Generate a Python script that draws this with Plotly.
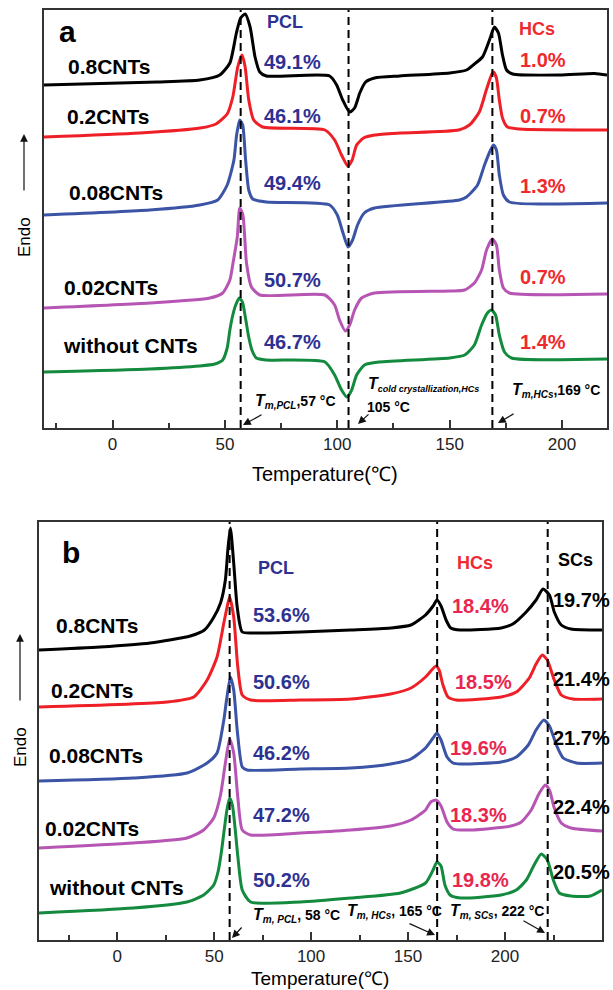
import plotly.graph_objects as go

W, H = 613, 990

# ---------------- Panel a ----------------
a_T_08 = [-30.5, 20, 38.8, 47.7, 52.2, 55.1, 57, 59, 61.2, 63.4, 65.5, 68.4, 96.6, 99.7, 102.4, 105.5, 107.7, 110,
          112.6, 116.6, 127.7, 150, 157.5, 161, 164.6, 167.7, 169.9, 171.7, 173.5, 175.3, 178, 199, 214.5, 220]
a_S_08 = [343, 346, 348, 353, 365, 395, 410, 414, 401, 371, 356, 352, 352, 343, 328, 316, 320, 335,
          346, 350, 352, 355, 358, 364, 371, 388, 401, 395, 373, 358, 354, 353, 354.5, 353]

a_T_02 = [-30.5, 12, 39, 46, 51, 53.5, 55.7, 57.6, 59, 60.6, 62.8, 66.8, 94.5, 98.8, 101.9, 104.7, 106.6, 108.6,
          111.7, 116.6, 128, 154, 158.8, 163.2, 166.3, 168.6, 169.5, 170.8, 172.1, 173.5, 175.7, 181, 220]
a_S_02 = [291, 295, 300, 304, 314, 331, 361, 373, 361, 328, 308, 301, 298, 288, 273, 262, 268, 283,
          290, 293, 295, 298, 303, 316, 338, 353, 356, 350, 328, 310, 301, 299, 298]

a_T_008 = [-30.5, 16.6, 38.8, 46.8, 51, 54, 55.2, 56.6, 57.9, 59.2, 60.6, 62.4, 68.5, 96.6, 100, 102.4, 104.8,
           106.8, 109, 112, 116.6, 154.4, 157.5, 162.4, 165.5, 168.2, 169.5, 170.8, 172.1, 173.9, 176.6, 220]
a_S_008 = [213, 218, 223, 228, 243, 268, 293, 308, 303, 268, 238, 229, 226, 223, 213, 196, 181,
           188, 203, 215, 220, 228, 231, 243, 263, 278, 283, 278, 253, 233, 226, 225]

a_T_002 = [-30.5, 16.6, 43.3, 49, 52.2, 53.6, 55.5, 56.6, 58, 59.6, 61.8, 65.5, 94.5, 98.8, 101, 103.6, 105.5,
           107.7, 110.8, 116.6, 150, 156.7, 161, 164.2, 166.4, 169, 170.8, 172.1, 173.9, 176.6, 220]
a_S_002 = [120, 125, 130, 135, 148, 165, 191, 220, 213, 165, 141, 133, 133, 123, 108, 97, 103,
           118, 130, 135, 137, 138, 145, 158, 178, 189, 183, 158, 140, 135, 134]

a_T_0 = [-30.5, 16.6, 38.8, 45.5, 49, 51, 52.2, 53.4, 54.8, 56.4, 57.8, 59, 60.5, 62, 64, 68.4, 94.5, 98.8,
         101.9, 104.3, 106.4, 108.6, 112.1, 118.8, 150, 156.7, 161, 164.2, 166.8, 168.6, 170.4, 172.1, 174.4,
         177.5, 220]
a_S_0 = [56, 59, 62, 64, 68, 80, 98, 112, 123, 130, 126, 112, 92, 78, 70, 68, 66, 53,
         38, 31, 38, 53, 63, 66, 70, 73, 83, 103, 115, 118, 113, 93, 76,
         70, 69]

a_peak_T = [57, 105, 169]

# ---------------- Panel b ----------------
b_T_08 = [-40.3, -8.8, 17, 37.7, 45, 49.6, 53.3, 55.8, 57.2, 58.4, 60.1, 61.9, 64.5, 70.4, 94.6, 120.5, 141, 151.5,
          159, 162.9, 164.9, 167, 169.6, 172, 177, 198, 204, 210.9, 216, 219.6, 222.9, 225.4, 229, 234, 250]
b_S_08 = [290, 293, 297, 304, 310, 322, 337, 360, 393, 412, 377, 333, 308, 307, 308, 310, 312, 315,
          325, 334, 340, 334, 320, 312, 310, 312, 316, 328, 340, 351, 345, 328, 315, 311, 310]

b_T_02 = [-40.3, 25.7, 39.5, 46.4, 51.5, 55, 56.7, 58, 60.1, 62.2, 64.5, 68.8, 94.6, 120.5, 141, 151.5, 159,
          164.4, 166, 168, 170.6, 174.8, 198, 205.8, 212.5, 216, 219.2, 221.8, 225.4, 229, 235, 250]
b_S_02 = [233, 238, 243, 260, 283, 317, 333, 343, 323, 273, 245, 240, 240, 241, 246, 252, 263,
          274, 270, 255, 243, 240, 243, 248, 262, 276, 285, 280, 260, 245, 241, 241]

b_T_008 = [-40.3, 8.3, 36, 46.4, 51.5, 55, 56.4, 58.4, 60.1, 61.9, 64.5, 67, 94.6, 120.5, 141, 151.5, 159,
           162.9, 164.9, 167, 170.1, 173.2, 177, 198, 205.8, 212, 216, 220, 222.9, 226.5, 230, 236.8, 250]
b_S_008 = [159, 162, 167, 177, 187, 220, 240, 263, 250, 210, 173, 170, 171, 172, 176, 181, 192,
           202, 207, 200, 183, 177, 176, 178, 183, 195, 210, 220, 214, 195, 182, 177, 177]

b_T_002 = [-40.3, 8.3, 36, 44.6, 49.8, 53.3, 55.8, 58, 60.1, 62.2, 64.5, 68.8, 94.6, 120.5, 141, 151.5, 159,
           161.7, 164.4, 167, 170.1, 173.2, 182, 203, 208.4, 213.5, 217.7, 220.8, 222.9, 225.4, 229, 234, 250]
b_S_002 = [92, 97, 102, 110, 122, 145, 177, 201, 187, 143, 110, 105, 107, 110, 114, 120, 130,
           138, 140, 134, 118, 111, 110, 114, 118, 130, 147, 155, 150, 132, 117, 112, 109]

b_T_0 = [-40.3, 8.3, 36, 44.6, 49.8, 52, 53.6, 55.2, 56.6, 58, 59.4, 60.8, 62.2, 64.5, 68.8, 94.6, 120.5, 146, 159,
         162.9, 164.9, 167, 169, 171.7, 177, 198, 205.8, 211, 215, 218.7, 221.8, 224.9, 228, 234, 244, 250]
b_S_0 = [27, 32, 38, 45, 55, 68, 86, 110, 130, 142, 135, 112, 84, 50, 38, 38, 42, 47, 57,
         70, 78, 74, 55, 45, 42, 45, 50, 60, 75, 86, 80, 60, 47, 44, 44, 50]

b_peak_T = [58, 165, 222]

colors = ["#000000", "#ee1f26", "#3b54a5", "#b655b3", "#138a3e"]
names = ["0.8CNTs", "0.2CNTs", "0.08CNTs", "0.02CNTs", "without CNTs"]

FONT = "Arial, Liberation Sans, sans-serif"

fig = go.Figure()

a_curves = [(a_T_08, a_S_08), (a_T_02, a_S_02), (a_T_008, a_S_008), (a_T_002, a_S_002), (a_T_0, a_S_0)]
b_curves = [(b_T_08, b_S_08), (b_T_02, b_S_02), (b_T_008, b_S_008), (b_T_002, b_S_002), (b_T_0, b_S_0)]

for (t, s), c, n in zip(a_curves, colors, names):
    fig.add_trace(go.Scatter(x=t, y=s, mode="lines", line=dict(color=c, width=3, shape="spline", smoothing=0.6),
                             name=n, xaxis="x", yaxis="y", showlegend=False))
for (t, s), c, n in zip(b_curves, colors, names):
    fig.add_trace(go.Scatter(x=t, y=s, mode="lines", line=dict(color=c, width=3, shape="spline", smoothing=0.6),
                             name=n, xaxis="x2", yaxis="y2", showlegend=False))

YMAX = 418
for tp in a_peak_T:
    fig.add_trace(go.Scatter(x=[tp, tp], y=[0, YMAX], mode="lines", line=dict(color="black", width=2, dash="8px,5px"),
                             xaxis="x", yaxis="y", showlegend=False, hoverinfo="skip"))
for tp in b_peak_T:
    fig.add_trace(go.Scatter(x=[tp, tp], y=[0, YMAX], mode="lines", line=dict(color="black", width=2, dash="8px,5px"),
                             xaxis="x2", yaxis="y2", showlegend=False, hoverinfo="skip"))


def px(x):
    return x / W


def py(y):
    return 1 - y / H


anns = []


def text(x, y, t, size=19, color="black", anchor="left", bold=True, angle=0, family=FONT):
    anns.append(dict(x=px(x), y=py(y), xref="paper", yref="paper", text=("<b>%s</b>" % t) if bold else t,
                     showarrow=False, xanchor=anchor, yanchor="middle", textangle=angle,
                     font=dict(size=size, color=color, family=family)))


def arrow(tx, ty, hx, hy, width=1.2):
    anns.append(dict(x=px(hx), y=py(hy), xref="paper", yref="paper", ax=tx - hx, ay=ty - hy, text="",
                     showarrow=True, arrowhead=2, arrowsize=1.3, arrowwidth=width, arrowcolor="#111"))


def tlabel(sub, rest, subsize=10):
    return ("<span style='font-size:16px'><i>T</i></span><sub><span style='font-size:%dpx'><i>%s</i></span></sub>%s"
            % (subsize, sub, rest))


BLUE = "#2e3192"
RED = "#ee2a2e"
RED2 = "#e8264f"

# panel a texts
text(57, 32, "a", size=30)
text(285, 22, "PCL", size=18, color=BLUE, anchor="center")
text(537, 29, "HCs", size=18, color=RED, anchor="center")
a_lab_y = [67, 117, 192, 287, 345]
a_lab_x = [66, 65, 67, 62, 61]
for lx, ly, n in zip(a_lab_x, a_lab_y, names):
    text(lx, ly, n, size=21)
a_pcl = ["49.1%", "46.1%", "49.4%", "50.7%", "46.7%"]
a_pcl_y = [62, 116, 183, 280, 342]
for v, ly in zip(a_pcl, a_pcl_y):
    text(292, ly, v, size=20, color=BLUE, anchor="center")
a_hc = ["1.0%", "0.7%", "1.3%", "0.7%", "1.4%"]
a_hc_y = [60, 116, 186, 277, 342]
for v, ly in zip(a_hc, a_hc_y):
    text(543, ly, v, size=20, color=RED, anchor="center")

text(253, 402, tlabel("m,PCL", ",57 °C"), size=14)
arrow(263, 414, 243, 425)
text(366, 385, tlabel("cold crystallization,HCs", "", subsize=9), size=14)
text(365, 407, "105 °C", size=14)
arrow(370, 413, 358, 424)
text(510, 390, tlabel("m,HCs", ",169 °C"), size=14)
arrow(515, 413, 498, 423)

# y label panel a
text(24, 237, "Endo", size=17, bold=False, angle=-90, anchor="center")
arrow(24, 192, 24, 134, width=1.2)
text(325, 474, "Temperature(℃)", size=20, bold=False, anchor="center")

# panel b texts
text(60, 552, "b", size=30)
text(276, 568, "PCL", size=18, color=BLUE, anchor="center")
text(475, 563, "HCs", size=18, color=RED, anchor="center")
text(575, 560, "SCs", size=18, anchor="center")
b_lab_y = [625, 690, 755, 828, 887]
b_lab_x = [54, 49, 47, 43, 47]
for lx, ly, n in zip(b_lab_x, b_lab_y, names):
    text(lx, ly, n, size=21)
b_pcl = ["53.6%", "50.6%", "46.2%", "47.2%", "50.2%"]
b_pcl_y = [615, 682, 753, 815, 880]
for v, ly in zip(b_pcl, b_pcl_y):
    text(281, ly, v, size=20, color=BLUE, anchor="center")
b_hc = ["18.4%", "18.5%", "19.6%", "18.3%", "19.8%"]
b_hc_x = [480, 483, 478, 478, 480]
b_hc_y = [606, 682, 748, 815, 880]
for v, lx, ly in zip(b_hc, b_hc_x, b_hc_y):
    text(lx, ly, v, size=20, color=RED2, anchor="center")
b_sc = ["19.7%", "21.4%", "21.7%", "22.4%", "20.5%"]
b_sc_y = [600, 679, 738, 807, 872]
for v, ly in zip(b_sc, b_sc_y):
    text(581, ly, v, size=20, anchor="center")

text(251, 915, tlabel("m, PCL", ", 58 °C"), size=14)
arrow(243, 926, 232, 938)
text(345, 911, tlabel("m, HCs", ", 165 °C"), size=14)
arrow(408, 923, 435, 935)
text(448, 911, tlabel("m, SCs", ", 222 °C"), size=14)
arrow(522, 920, 545, 933)

text(20, 747, "Endo", size=17, bold=False, angle=-90, anchor="center")
arrow(20, 702, 20, 634, width=1.2)
text(320, 978, "Temperature(℃)", size=19, bold=False, anchor="center")

xcommon = dict(showline=True, mirror=True, linecolor="#333", linewidth=1.5, ticks="inside", ticklen=8,
               tickwidth=1.5, tickcolor="#333", dtick=50, tick0=0, showgrid=False, zeroline=False,
               minor=dict(ticks="inside", ticklen=5, tickwidth=1.5, tickcolor="#333", dtick=25, tick0=0),
               tickfont=dict(size=17, family=FONT, color="#222"))
ycommon = dict(showline=True, mirror=True, linecolor="#333", linewidth=1.5, ticks="", showticklabels=False,
               showgrid=False, zeroline=False, range=[0, YMAX])

fig.update_layout(
    width=W, height=H, margin=dict(l=0, r=0, t=0, b=0),
    paper_bgcolor="white", plot_bgcolor="white",
    xaxis=dict(domain=[44 / W, 607 / W], range=[-30.5, 220], anchor="y", **xcommon),
    yaxis=dict(domain=[1 - 428 / H, 1 - 10 / H], anchor="x", **ycommon),
    xaxis2=dict(domain=[39 / W, 602 / W], range=[-40.3, 250], anchor="y2", **xcommon),
    yaxis2=dict(domain=[1 - 940 / H, 1 - 522 / H], anchor="x2", **ycommon),
    annotations=anns,
    font=dict(family=FONT),
)

fig.write_html("out.html")
